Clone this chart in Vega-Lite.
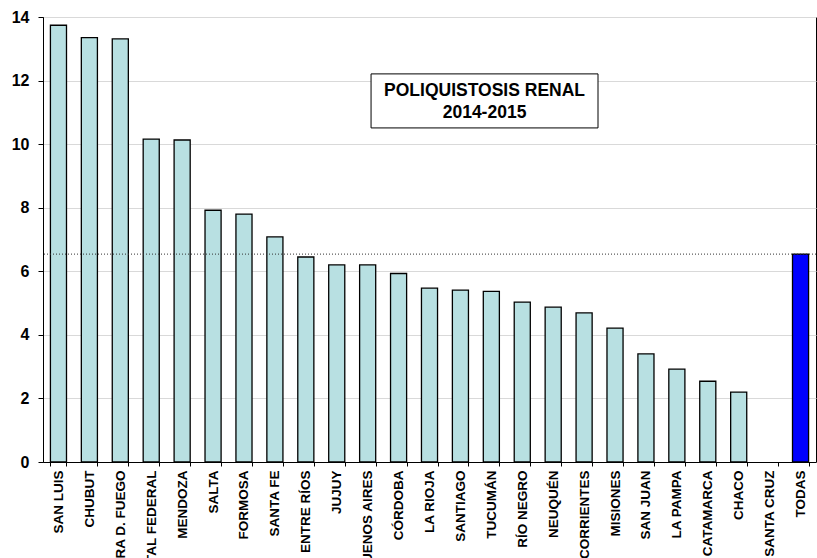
{
  "$schema": "https://vega.github.io/schema/vega-lite/v6.json",
  "autosize": "none",
  "padding": {"left": 43, "top": 17, "right": 1, "bottom": 96},
  "width": 773,
  "height": 445,
  "background": "white",
  "config": {
    "font": "Liberation Sans",
    "view": {"stroke": "black", "strokeWidth": 1}
  },
  "datasets": {
    "bars": [
      {"provincia": "SAN LUIS", "valor": 13.74},
      {"provincia": "CHUBUT", "valor": 13.35},
      {"provincia": "TIERRA  D. FUEGO", "valor": 13.31},
      {"provincia": "CAPITAL FEDERAL", "valor": 10.16},
      {"provincia": "MENDOZA", "valor": 10.13},
      {"provincia": "SALTA", "valor": 7.92},
      {"provincia": "FORMOSA", "valor": 7.8},
      {"provincia": "SANTA FE", "valor": 7.08},
      {"provincia": "ENTRE RÍOS", "valor": 6.45},
      {"provincia": "JUJUY", "valor": 6.2},
      {"provincia": "BUENOS AIRES", "valor": 6.2},
      {"provincia": "CÓRDOBA", "valor": 5.93},
      {"provincia": "LA RIOJA", "valor": 5.47},
      {"provincia": "SANTIAGO", "valor": 5.41},
      {"provincia": "TUCUMÁN", "valor": 5.37},
      {"provincia": "RÍO NEGRO", "valor": 5.03},
      {"provincia": "NEUQUÉN", "valor": 4.87},
      {"provincia": "CORRIENTES", "valor": 4.69},
      {"provincia": "MISIONES", "valor": 4.21},
      {"provincia": "SAN JUAN", "valor": 3.4},
      {"provincia": "LA PAMPA", "valor": 2.92},
      {"provincia": "CATAMARCA", "valor": 2.54},
      {"provincia": "CHACO", "valor": 2.2},
      {"provincia": "SANTA CRUZ", "valor": 0},
      {"provincia": "TODAS", "valor": 6.54}
    ],
    "media": [{"valor": 6.54}],
    "caja": [{"x0": 10.61, "x1": 17.95, "y0": 10.51, "y1": 12.21, "xc": 14.28, "yc": 11.67, "texto": "POLIQUISTOSIS RENAL\n2014-2015"}]
  },
  "layer": [
    {
      "data": {"name": "bars"},
      "mark": {"type": "bar", "stroke": "black", "strokeWidth": 1.3},
      "encoding": {
        "x": {
          "field": "provincia", "type": "nominal", "sort": null,
          "scale": {"paddingInner": 0.48, "paddingOuter": 0.24},
          "axis": {
            "title": null, "labelAngle": -90, "labelAlign": "right", "labelBaseline": "middle",
            "labelFont": "Liberation Sans", "labelFontWeight": "bold", "labelFontSize": 13.5, "labelColor": "black",
            "labelPadding": 4, "tickSize": 4, "tickColor": "black", "domainColor": "black",
            "tickBand": "extent", "labelOverlap": false, "labelLimit": 0
          }
        },
        "y": {
          "field": "valor", "type": "quantitative",
          "scale": {"domain": [0, 14], "nice": false},
          "axis": {
            "title": null, "values": [0, 2, 4, 6, 8, 10, 12, 14],
            "labelFont": "Liberation Sans", "labelFontWeight": "bold", "labelFontSize": 16, "labelColor": "black",
            "labelPadding": 9, "tickSize": 5, "tickColor": "black", "domainColor": "black",
            "grid": true, "gridColor": "#d9d9d9", "gridWidth": 1
          }
        },
        "fill": {
          "condition": {"test": "datum.provincia === 'TODAS'", "value": "#0000FF"},
          "value": "#B8E0E2"
        },
        "strokeOpacity": {
          "condition": {"test": "datum.valor === 0", "value": 0},
          "value": 1
        }
      }
    },
    {
      "data": {"name": "media"},
      "mark": {"type": "rule", "color": "#333333", "strokeWidth": 1, "strokeDash": [1, 2]},
      "encoding": {"y": {"field": "valor", "type": "quantitative"}}
    },
    {
      "data": {"name": "caja"},
      "mark": {"type": "rect", "fill": "white", "stroke": "black", "strokeWidth": 1},
      "encoding": {
        "x": {"field": "x0", "type": "quantitative", "scale": {"domain": [0, 25], "nice": false}, "axis": null},
        "x2": {"field": "x1"},
        "y": {"field": "y0", "type": "quantitative"},
        "y2": {"field": "y1"}
      }
    },
    {
      "data": {"name": "caja"},
      "mark": {"type": "text", "font": "Liberation Sans", "fontWeight": "bold", "fontSize": 17.5, "lineBreak": "\n", "lineHeight": 22, "align": "center", "baseline": "middle", "color": "black"},
      "encoding": {
        "x": {"field": "xc", "type": "quantitative", "scale": {"domain": [0, 25], "nice": false}, "axis": null},
        "y": {"field": "yc", "type": "quantitative"},
        "text": {"field": "texto"}
      }
    }
  ],
  "resolve": {"scale": {"x": "independent"}, "axis": {"x": "independent"}}
}
